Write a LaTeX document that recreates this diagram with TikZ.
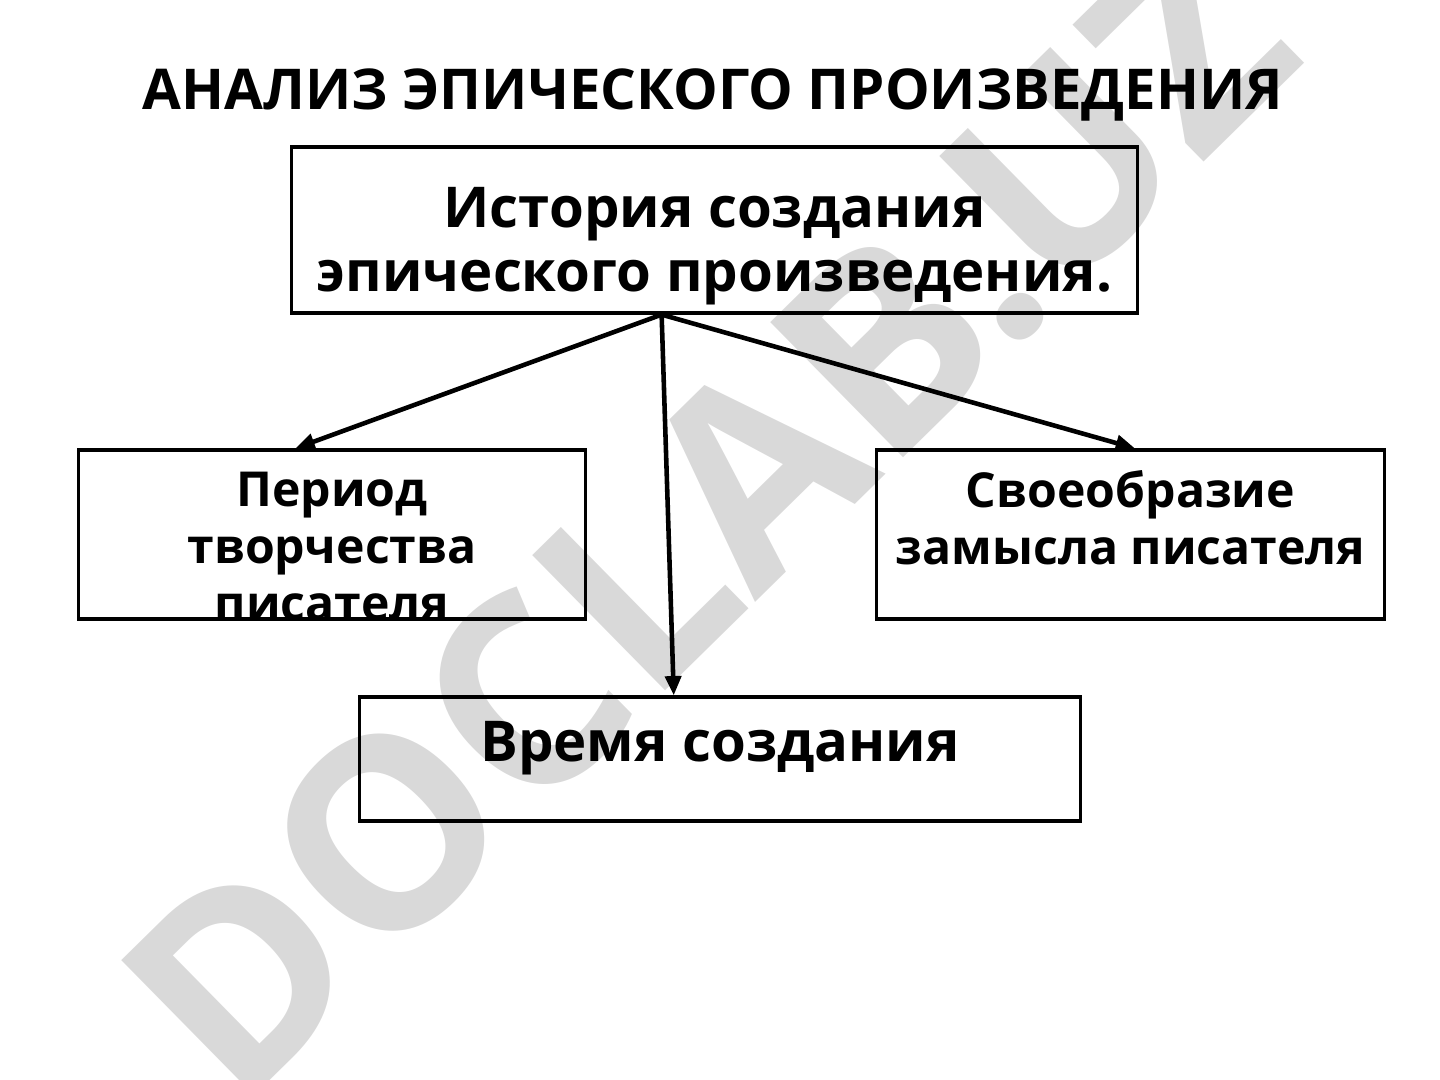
\documentclass[tikz,border=0pt]{standalone}
\usepackage{fontspec}
\setmainfont{Open Sans}
\usetikzlibrary{positioning,arrows.meta}
\tikzset{
  box/.style={draw,line width=0.9pt,inner sep=0pt},
  boxtext/.style={inner sep=0pt,align=center,font=\bfseries\fontsize{13.7}{16.2}\selectfont},
}
\begin{document}
\begin{tikzpicture}[x=0.01cm,y=-0.01cm,>={Triangle[length=5.5pt,width=4.5pt]}]
                \useasboundingbox (0,0) rectangle (1440,1080);
                % watermark
                \node[rotate=44.5,text=black!15,font=\bfseries\fontsize{75.5}{76}\selectfont] (wm) at (707,518) {DOCLAB.UZ};
                \node[anchor=base,font=\bfseries\fontsize{16}{18}\selectfont] (title) at (713,110) {АНАЛИЗ ЭПИЧЕСКОГО ПРОИЗВЕДЕНИЯ};
                % boxes
                \node[box,minimum width=8.45cm,minimum height=1.66cm] (hist) at (714.5,230) {};
                \node[box,minimum width=5.06cm,minimum height=1.69cm] (per) at (332,534.5) {};
                \node[box,minimum width=5.07cm,minimum height=1.69cm] (svo) at (1130.5,534.5) {};
                \node[box,minimum width=7.2cm,minimum height=1.24cm] (vrem) at (720,759) {};
                \node[boxtext,font=\bfseries\fontsize{16}{18.4}\selectfont,below=0.41cm of hist.north] (histtxt) {История создания\\эпического произведения.};
                \node[boxtext,below=0.23cm of per.north] (pertxt) {Период\\творчества\\писателя};
                \node[boxtext,below=0.21cm of svo.north] (svotxt) {Своеобразие\\замысла писателя};
                \node[boxtext,font=\bfseries\fontsize{16}{18}\selectfont,below=0.25cm of vrem.north] (vremtxt) {Время создания};
                % arrows
                \draw[line width=1.3pt,->] (hist.238) -- (per.113);
                \draw[line width=1.3pt,->] (hist.238) -- (vrem.126);
                \draw[line width=1.3pt,->] (hist.238) -- (svo.87);
            \end{tikzpicture}
\end{document}
